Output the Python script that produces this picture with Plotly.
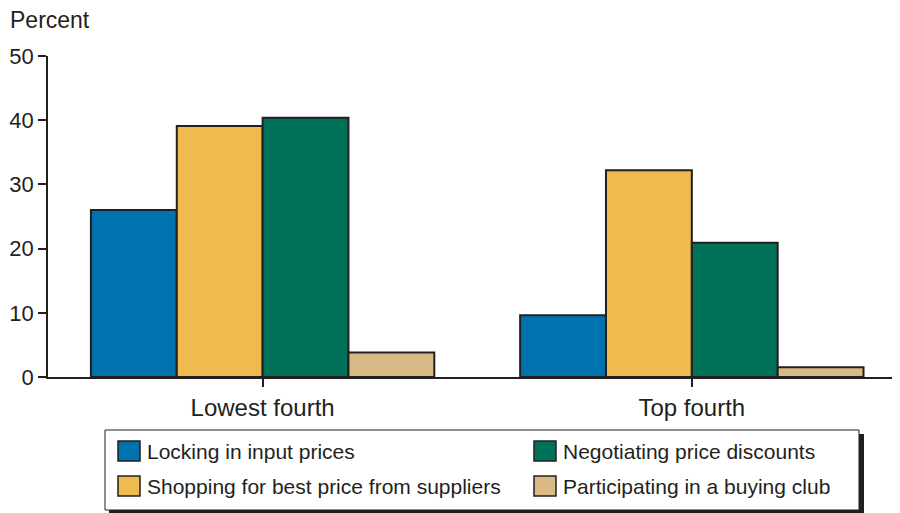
import plotly.graph_objects as go

# data
groups = ["Lowest fourth", "Top fourth"]
series_names = [
    "Locking in input prices",
    "Shopping for best price from suppliers",
    "Negotiating price discounts",
    "Participating in a buying club",
]
locking = [26.0, 9.6]
shopping = [39.1, 32.2]
negotiating = [40.4, 20.9]
buying_club = [3.8, 1.5]

colors = ["#0073AF", "#EFBA4E", "#00725A", "#D9B985"]
y_ticks = [0, 10, 20, 30, 40, 50]

# the page body has an 8px margin, so size the figure to end at the window edge
OFF = 8
W, H = 900 - OFF, 513 - OFF
L, R, T, B = 48 - OFF, 0, 56 - OFF, 513 - 377
text_col = "#231F20"
font = "Liberation Sans, Arial, sans-serif"


def px_to_paper(x, y):
    # screen pixel -> paper coordinates
    x, y = x - OFF, y - OFF
    pw = W - L - R
    ph = H - T - B
    return (x - L) / pw, (H - B - y) / ph


fig = go.Figure()
for name, vals, col in zip(series_names, [locking, shopping, negotiating, buying_club], colors):
    fig.add_trace(go.Bar(
        x=groups, y=vals, name=name,
        marker=dict(color=col, line=dict(color="#231F20", width=2)),
        showlegend=False,
    ))

# legend box with drop shadow, drawn by hand
shapes = []
x0, y1 = px_to_paper(105, 430)
x1, y0 = px_to_paper(859, 510)
sx0, sy1 = px_to_paper(109, 434)
sx1, sy0 = px_to_paper(864, 515)
shapes.append(dict(type="rect", xref="paper", yref="paper", x0=sx0, x1=sx1, y0=sy0, y1=sy1,
                   fillcolor="#231F20", line=dict(width=0)))
shapes.append(dict(type="rect", xref="paper", yref="paper", x0=x0, x1=x1, y0=y0, y1=y1,
                   fillcolor="white", line=dict(color="#231F20", width=1)))

annotations = []
for i, (name, col) in enumerate(zip(series_names, colors)):
    c, r = i // 2, i % 2
    sw_left = 118 + c * 416
    cy = 451 + r * 35
    a0, b1 = px_to_paper(sw_left, cy - 10)
    a1, b0 = px_to_paper(sw_left + 22, cy + 10)
    shapes.append(dict(type="rect", xref="paper", yref="paper", x0=a0, x1=a1, y0=b0, y1=b1,
                       fillcolor=col, line=dict(color="#231F20", width=1.5)))
    tx, ty = px_to_paper(sw_left + 27, cy)
    annotations.append(dict(xref="paper", yref="paper", x=tx, y=ty, text=name, showarrow=False,
                            xanchor="left", yanchor="middle",
                            font=dict(size=21, color=text_col, family=font)))

px, py = px_to_paper(8, 20)
annotations.append(dict(xref="paper", yref="paper", x=px, y=py, text="Percent", showarrow=False,
                        xanchor="left", yanchor="middle",
                        font=dict(size=23, color=text_col, family=font)))

fig.update_layout(
    width=W, height=H,
    margin=dict(l=L, r=R, t=T, b=B),
    paper_bgcolor="white", plot_bgcolor="white",
    barmode="group", bargap=0.2, bargroupgap=0,
    font=dict(family=font, size=21, color=text_col),
    shapes=shapes, annotations=annotations,
    xaxis=dict(
        range=[-0.5, 1.485], showgrid=False, zeroline=False,
        showline=True, linecolor="#231F20", linewidth=1.5,
        ticks="outside", ticklen=8, tickcolor="#231F20", tickwidth=1.5,
        tickfont=dict(size=24),
    ),
    yaxis=dict(
        range=[0, 50], tickvals=y_ticks, showgrid=False, zeroline=False,
        showline=True, linecolor="#231F20", linewidth=1.5,
        ticks="outside", ticklen=8, tickcolor="#231F20", tickwidth=1.5,
        tickfont=dict(size=22),
    ),
)

fig.write_html("out.html")
